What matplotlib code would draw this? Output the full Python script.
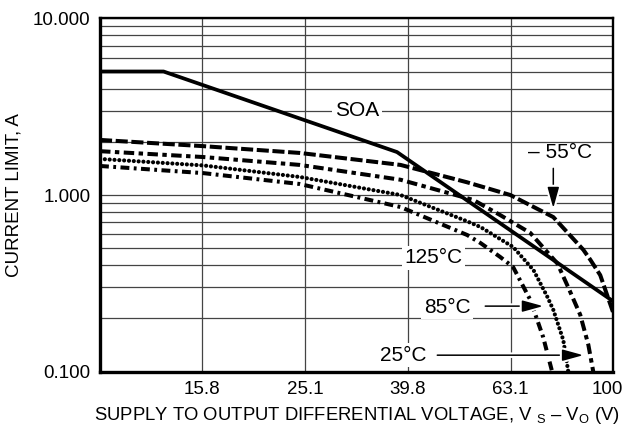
import matplotlib
matplotlib.use('Agg')
import matplotlib.pyplot as plt
import matplotlib.patheffects as pe
import matplotlib.transforms as mtransforms
from matplotlib.ticker import LogLocator, NullFormatter, FixedLocator

plt.rcParams['font.family'] = ['Liberation Sans', 'DejaVu Sans']
plt.rcParams['mathtext.fontset'] = 'custom'
plt.rcParams['mathtext.rm'] = 'Liberation Sans'

# safe operating area
soa_v = [10, 13.3, 37.9, 100]
soa_i = [5.0, 5.0, 1.75, 0.25]

# current limit curves
m55_v = [10, 15.9, 24.5, 38.5, 51.9, 63.0, 76.4, 87.4, 90.2, 94.3, 100]
m55_i = [2.05, 1.89, 1.73, 1.48, 1.18, 1.0, 0.75, 0.49, 0.43, 0.352, 0.215]

p25_v = [10, 15.9, 24.5, 38.5, 53.4, 60.2, 68.9, 77.8, 81.7, 86.2, 89.4, 91.4]
p25_i = [1.77, 1.64, 1.48, 1.22, 0.937, 0.77, 0.61, 0.41, 0.30, 0.21, 0.142, 0.10]

p125_v = [10, 15.9, 24.5, 38.5, 51.9, 55.1, 63.8, 69.9, 74.4, 76.4, 79.9, 81.7]
p125_i = [1.60, 1.47, 1.265, 1.0, 0.71, 0.659, 0.508, 0.376, 0.265, 0.224, 0.151, 0.10]

p85_v = [10, 15.9, 24.5, 38.5, 51.9, 55.1, 60.2, 63.8, 68.9, 73.0, 76.0]
p85_i = [1.46, 1.33, 1.154, 0.855, 0.594, 0.535, 0.446, 0.391, 0.255, 0.157, 0.10]

x_ticks = [15.8, 25.1, 39.8, 63.1, 100]
x_labels = ['15.8', '25.1', '39.8', '63.1', '100']
y_ticks = [0.1, 1, 10]
y_labels = ['0.100', '1.000', '10.000']

fig = plt.figure(figsize=(6.25, 4.29), dpi=100)
ax = fig.add_axes([0.16, 0.1336, 0.8213, 0.8237])
ax.set_xscale('log')
ax.set_yscale('log')
ax.set_xlim(10, 100)
ax.set_ylim(0.1, 10)

ax.plot(soa_v, soa_i, color='black', lw=2.7, solid_joinstyle='round')
ax.plot(m55_v, m55_i, color='black', lw=2.9, linestyle=(0, (3.0, 0.9)))
ax.plot(p25_v, p25_i, color='black', lw=2.9, linestyle=(0, (2.6, 1.1, 1.1, 1.1)))
ax.plot(p125_v, p125_i, color='black', lw=3.0, linestyle=(0, (0.01, 1.15)),
        dash_capstyle='round')
ax.plot(p85_v, p85_i, color='black', lw=2.9, linestyle=(0, (2.2, 1.1, 0.7, 1.1)))

ax.xaxis.set_major_locator(FixedLocator(x_ticks))
ax.set_xticklabels(x_labels)
ax.xaxis.set_minor_formatter(NullFormatter())
ax.xaxis.set_minor_locator(FixedLocator([]))
ax.yaxis.set_major_locator(FixedLocator(y_ticks))
ax.set_yticklabels(y_labels)
ax.yaxis.set_minor_locator(LogLocator(base=10, subs=range(2, 10)))
ax.yaxis.set_minor_formatter(NullFormatter())
ax.tick_params(which='both', length=0, labelsize=13.5, pad=7)

# keep the last x label inside the figure
last = ax.get_xticklabels()[-1]
last.set_transform(last.get_transform() +
                   mtransforms.ScaledTranslation(-0.06, 0, fig.dpi_scale_trans))

ax.set_axisbelow(True)
ax.grid(True, which='major', color='#444444', lw=0.9)
ax.grid(True, which='minor', axis='y', color='#444444', lw=0.9)

for s in ['left', 'bottom']:
    ax.spines[s].set_linewidth(2.4)
for s in ['top', 'right']:
    ax.spines[s].set_linewidth(1.7)

ax.set_ylabel('CURRENT LIMIT, A', fontsize=13.5, labelpad=7)
ax.set_xlabel(r'SUPPLY TO OUTPUT DIFFERENTIAL VOLTAGE, V $_{\mathrm{S}}$ – V$_{\mathrm{O}}$ (V)',
              fontsize=13.3, labelpad=5)

box = dict(facecolor='white', edgecolor='none', pad=2)
ax.text(31.7, 3.0, 'SOA', fontsize=15, ha='center', va='center', bbox=box)
ax.text(78.8, 1.73, '– 55°C', fontsize=15, ha='center', va='center')
ax.text(44.6, 0.44, '125°C', fontsize=15, ha='center', va='center', bbox=box)
ax.text(47.5, 0.232, '85°C', fontsize=15, ha='center', va='center', bbox=box)
ax.text(38.9, 0.124, '25°C', fontsize=15, ha='center', va='center', bbox=box)

arrow = dict(arrowstyle='-|>,head_length=0.8,head_width=0.22', mutation_scale=16,
             color='black', lw=1.1, shrinkA=0, shrinkB=0,
             path_effects=[pe.withStroke(linewidth=4, foreground='white')])
ax.annotate('', xy=(76.4, 0.842), xytext=(76.4, 1.415), arrowprops=arrow)
ax.annotate('', xy=(73.0, 0.235), xytext=(56.3, 0.235), arrowprops=arrow)
ax.annotate('', xy=(87.4, 0.124), xytext=(45.4, 0.124), arrowprops=arrow)

fig.savefig('out.png', dpi=100)
